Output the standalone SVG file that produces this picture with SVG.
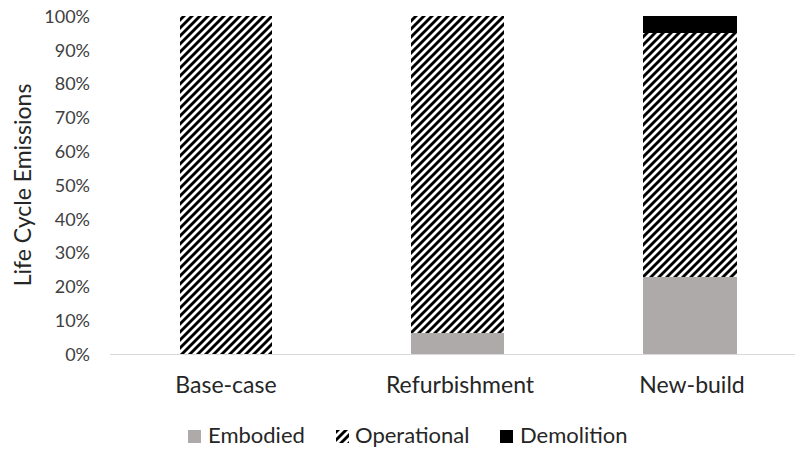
<svg xmlns="http://www.w3.org/2000/svg" width="795" height="450" viewBox="0 0 795 450">
<style>
.tick{font-family:Lato,"Liberation Sans",sans-serif;font-size:18px;fill:#404040;text-anchor:end}
.cat{font-family:Lato,"Liberation Sans",sans-serif;font-size:23px;fill:#262626;text-anchor:middle}
.leg{font-family:Lato,"Liberation Sans",sans-serif;font-size:22px;fill:#262626}
.title{font-family:Lato,"Liberation Sans",sans-serif;font-size:23px;fill:#262626;text-anchor:middle}
.emb{fill:#aeaaaa}
.op{fill:url(#hatch)}
.dem{fill:#000}
</style>
<defs>
<pattern id="hatch" patternUnits="userSpaceOnUse" width="8" height="8">
<rect width="8" height="8" fill="#fff"/>
<path d="M-2,2 L2,-2 M0,8 L8,0 M6,10 L10,6" stroke="#000" stroke-width="2.9"/>
</pattern>
</defs>
<rect width="795" height="450" fill="#fff"/>
<g id="y-axis">
<text class="tick" x="90" y="23">100%</text>
<text class="tick" x="90" y="57">90%</text>
<text class="tick" x="90" y="90">80%</text>
<text class="tick" x="90" y="124">70%</text>
<text class="tick" x="90" y="158">60%</text>
<text class="tick" x="90" y="192">50%</text>
<text class="tick" x="90" y="226">40%</text>
<text class="tick" x="90" y="259">30%</text>
<text class="tick" x="90" y="293">20%</text>
<text class="tick" x="90" y="327">10%</text>
<text class="tick" x="90" y="361">0%</text>
<text class="title" transform="translate(31,185) rotate(-90)">Life Cycle Emissions</text>
</g>
<g id="connectors">
<line x1="110" y1="354.5" x2="795" y2="354.5" stroke="#d9d9d9" stroke-width="1"/>
</g>
<g id="base-case">
<rect class="op" x="180" y="16" width="92" height="338"/>
<text class="cat" x="226" y="393">Base-case</text>
</g>
<g id="refurbishment">
<rect class="op" x="411" y="16" width="93" height="317"/>
<rect class="emb" x="411" y="333" width="93" height="21"/>
<text class="cat" x="460" y="393">Refurbishment</text>
</g>
<g id="new-build">
<rect class="dem" x="643" y="16" width="94" height="17"/>
<rect class="op" x="643" y="33" width="94" height="244"/>
<rect class="emb" x="643" y="277" width="94" height="77"/>
<text class="cat" x="692" y="393">New-build</text>
</g>
<g id="legend">
<rect class="emb" x="188" y="430" width="13" height="13"/>
<text class="leg" x="208" y="443">Embodied</text>
<rect class="op" x="336" y="430" width="13" height="13"/>
<text class="leg" x="355" y="443">Operational</text>
<rect class="dem" x="500" y="430" width="13" height="13"/>
<text class="leg" x="520" y="443">Demolition</text>
</g>
</svg>
